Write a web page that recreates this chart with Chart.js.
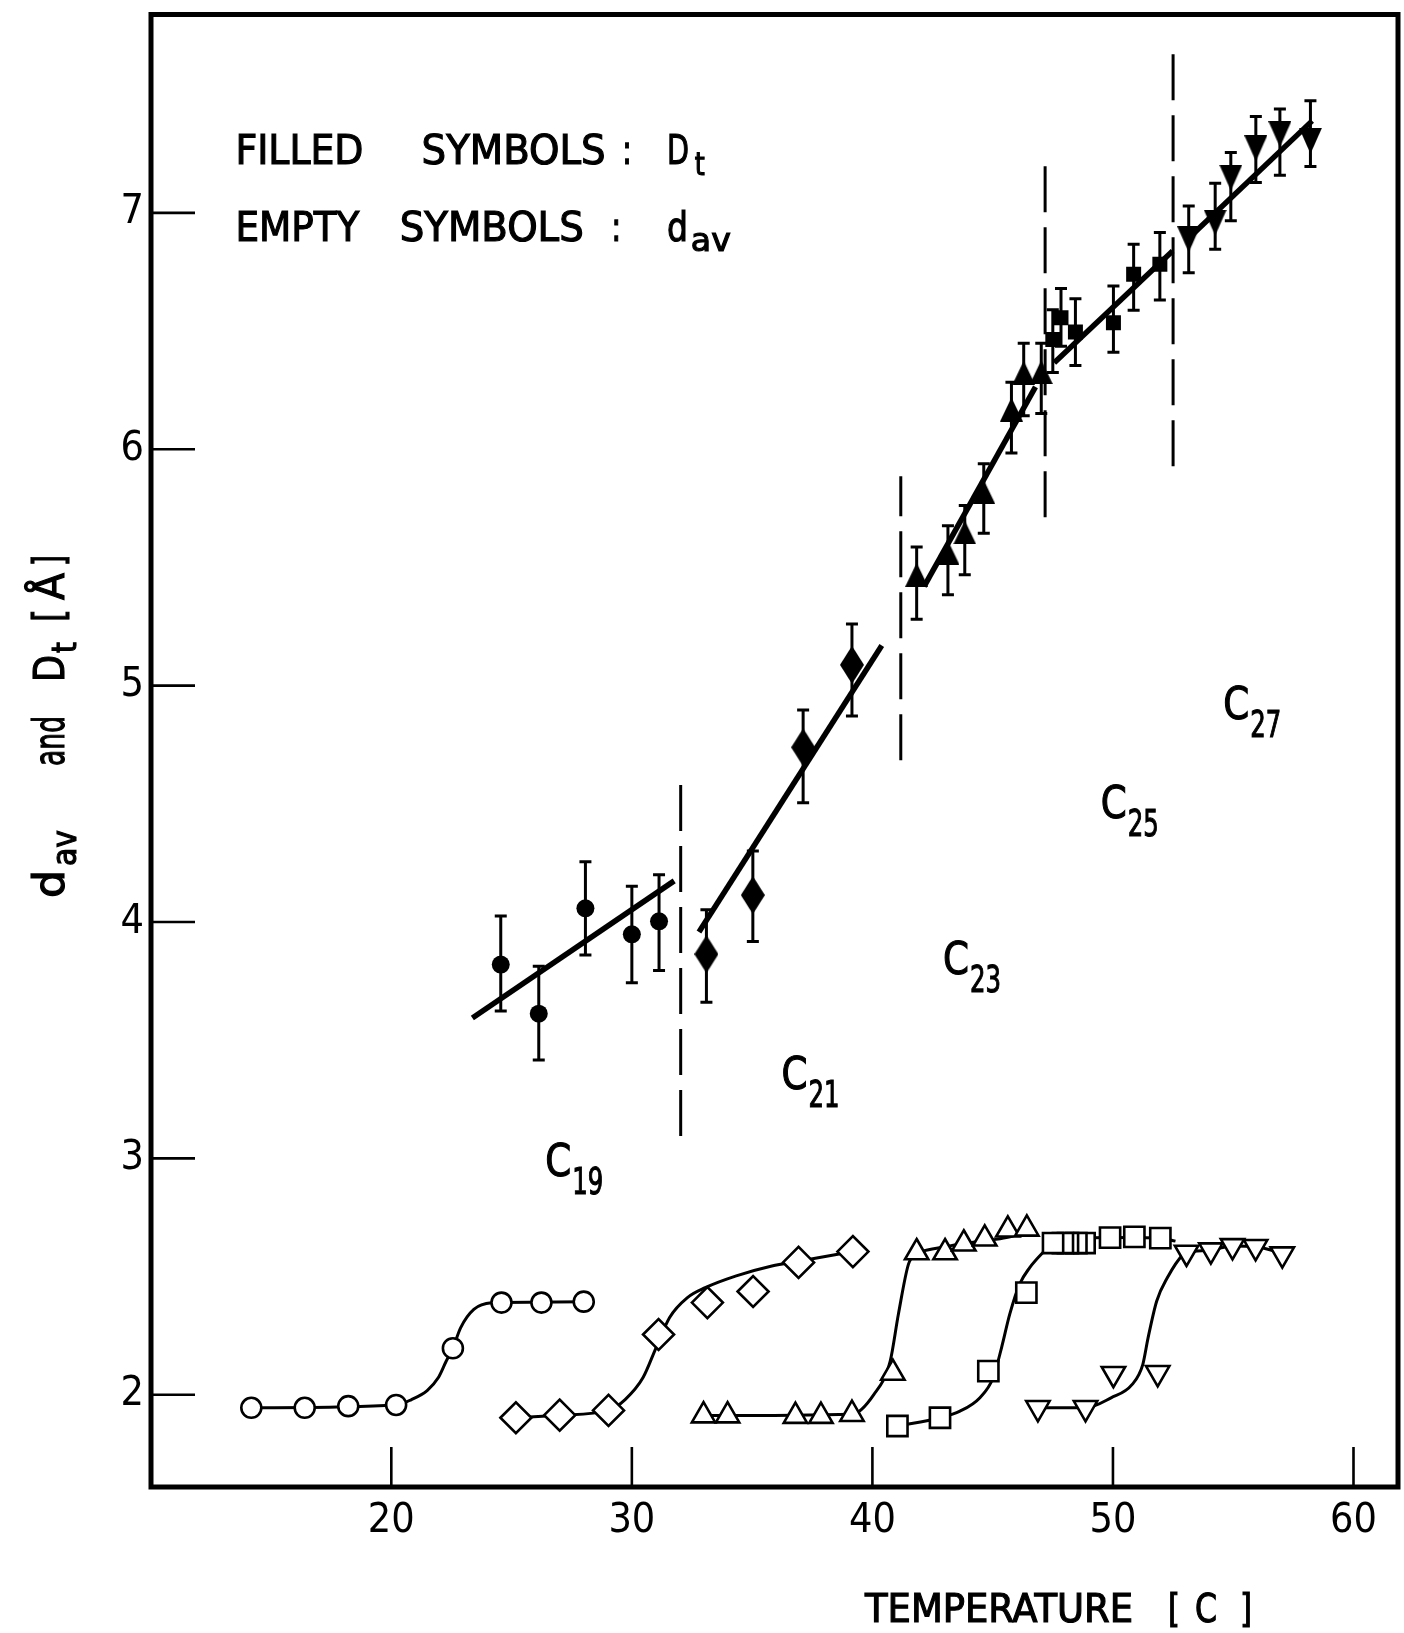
<!DOCTYPE html>
<html>
<head>
<meta charset="utf-8">
<script src="https://cdn.jsdelivr.net/npm/chart.js@4.4.1/dist/chart.umd.min.js"></script>
<style>
html,body{margin:0;padding:0;background:#fff;}
canvas{display:block;}
</style>
</head>
<body>
<canvas id="c" width="1404" height="1633"></canvas>
<script>
// ================= DATA =================
const xTickValues = [20, 30, 40, 50, 60];
const yTickValues = [2, 3, 4, 5, 6, 7];

// ---- Filled symbols: D_t (with error-bar ends) ----
const c19Temp = [24.55, 26.13, 28.07, 30.00, 31.13];
const c19Dt   = [3.820, 3.612, 4.058, 3.948, 4.003];
const c19Hi   = [4.025, 3.813, 4.255, 4.151, 4.200];
const c19Lo   = [3.624, 3.416, 3.861, 3.743, 3.795];

const c21Temp = [33.10, 35.03, 37.12, 39.15];
const c21Dt   = [3.864, 4.114, 4.739, 5.088];
const c21Hi   = [4.052, 4.300, 4.897, 5.261];
const c21Lo   = [3.661, 3.918, 4.504, 4.872];

const c23Temp = [41.84, 43.14, 43.84, 44.63, 45.78, 46.29, 47.02];
const c23Dt   = [5.469, 5.563, 5.648, 5.819, 6.168, 6.323, 6.326];
const c23Hi   = [5.586, 5.676, 5.762, 5.939, 6.283, 6.448, 6.448];
const c23Lo   = [5.281, 5.384, 5.469, 5.645, 5.984, 6.142, 6.151];

const c25Temp = [47.50, 47.84, 48.44, 50.02, 50.86, 51.95];
const c25Dt   = [6.464, 6.556, 6.496, 6.535, 6.740, 6.782];
const c25Hi   = [6.590, 6.680, 6.637, 6.690, 6.867, 6.917];
const c25Lo   = [6.325, 6.436, 6.354, 6.410, 6.588, 6.631];

const c27Temp = [53.15, 54.25, 54.90, 55.94, 56.94, 58.21];
const c27Dt   = [6.888, 6.959, 7.149, 7.273, 7.333, 7.305];
const c27Hi   = [7.029, 7.125, 7.255, 7.408, 7.439, 7.474];
const c27Lo   = [6.747, 6.846, 6.966, 7.128, 7.159, 7.196];

// ---- Straight fits through D_t ----
const c19FitT = [23.37, 31.76]; const c19FitD = [3.594, 4.174];
const c21FitT = [32.79, 40.39]; const c21FitD = [3.958, 5.170];
const c23FitT = [42.15, 46.78]; const c23FitD = [5.420, 6.264];
const c25FitT = [47.56, 52.48]; const c25FitD = [6.366, 6.839];
const c27FitT = [53.24, 58.28]; const c27FitD = [6.902, 7.389];

// ---- Dashed phase boundaries ----
const boundT  = [32.03, 41.18, 47.18, 52.50];
const boundLo = [3.095, 4.684, 5.712, 5.928];
const boundHi = [4.597, 5.886, 7.235, 7.715];

// ---- Empty symbols: d_av ----
const c19AvT = [14.18, 16.40, 18.21, 20.20, 22.56, 24.58, 26.24, 28.00];
const c19Av  = [1.945, 1.945, 1.952, 1.957, 2.197, 2.390, 2.390, 2.394];
const c21AvT = [25.18, 27.00, 29.03, 31.11, 33.14, 35.04, 36.93, 39.19];
const c21Av  = [1.903, 1.914, 1.934, 2.255, 2.390, 2.437, 2.560, 2.606];
const c23AvT = [32.98, 33.98, 36.80, 37.86, 39.15, 40.85, 41.84, 43.02, 43.80, 44.67, 45.63, 46.42];
const c23Av  = [1.912, 1.912, 1.910, 1.910, 1.918, 2.092, 2.602, 2.602, 2.639, 2.660, 2.698, 2.702];
// listed right-to-left so the overlapping squares stack as in the figure
const c25AvT = [51.97, 50.89, 49.88, 48.82, 48.48, 48.13, 47.92, 47.51, 46.40, 44.82, 42.81, 41.04];
const c25Av  = [2.663, 2.668, 2.665, 2.642, 2.642, 2.642, 2.642, 2.642, 2.432, 2.100, 1.903, 1.868];
const c27AvT = [46.88, 48.86, 50.02, 51.86, 53.06, 54.07, 54.97, 55.93, 57.04];
const c27Av  = [1.945, 1.945, 2.089, 2.093, 2.602, 2.612, 2.630, 2.626, 2.595];

// ---- Hand-drawn guide curves through d_av ----
const c19CurveT = [14.18, 20.20, 20.84, 21.49, 21.95, 22.28, 22.56, 22.88, 23.43, 24.17, 24.58, 28.00];
const c19CurveD = [1.945, 1.957, 1.980, 2.018, 2.072, 2.142, 2.197, 2.283, 2.361, 2.389, 2.390, 2.394];
const c21CurveT = [25.18, 27.00, 29.03, 29.72, 30.46, 31.01, 31.57, 32.31, 33.05, 34.34, 35.82, 36.93, 39.19];
const c21CurveD = [1.903, 1.914, 1.934, 1.980, 2.072, 2.200, 2.327, 2.411, 2.453, 2.503, 2.545, 2.565, 2.606];
const c23CurveT = [32.98, 39.15, 40.05, 40.74, 41.08, 41.50, 41.84, 42.12, 43.22, 44.60, 45.57, 46.42];
const c23CurveD = [1.912, 1.918, 2.000, 2.143, 2.341, 2.553, 2.600, 2.609, 2.630, 2.651, 2.665, 2.690];
const c25CurveT = [41.04, 42.81, 43.64, 44.47, 45.02, 45.37, 45.71, 46.12, 46.54, 47.09, 47.51, 49.88, 51.97, 52.60];
const c25CurveD = [1.868, 1.903, 1.931, 1.988, 2.072, 2.200, 2.341, 2.468, 2.538, 2.602, 2.642, 2.665, 2.663, 2.650];
const c27CurveT = [46.88, 48.86, 49.92, 50.80, 51.24, 51.46, 51.82, 52.26, 52.92, 53.06, 54.07, 54.97, 55.93, 57.04];
const c27CurveD = [1.945, 1.945, 1.987, 2.044, 2.128, 2.241, 2.397, 2.495, 2.594, 2.602, 2.612, 2.630, 2.626, 2.600];

// ---- Text ----
const chainSubs = ['19', '21', '23', '25', '27'];
const yTitleParts = ['d', 'av', 'and', 'D', 't', '[', 'Å', ']'];
const xTitleParts = ['TEMPERATURE', '[', 'C', ']'];

// ================= DRAWING =================
const FONT = "'DejaVu Sans Condensed', 'DejaVu Sans', sans-serif";

function pts(xs, ys) { return xs.map((x, i) => ({ x: x, y: ys[i] })); }

function makeMarker(w, h, path) {
  const c = document.createElement('canvas');
  c.width = w; c.height = h;
  const g = c.getContext('2d');
  g.fillStyle = '#000';
  g.beginPath(); path(g, w, h); g.closePath(); g.fill();
  return c;
}
const tallDiamond = makeMarker(24, 38, (g, w, h) => { g.moveTo(w/2, 0); g.lineTo(w, h/2); g.lineTo(w/2, h); g.lineTo(0, h/2); });
const upTri = makeMarker(23, 24, (g, w, h) => { g.moveTo(w/2, 0); g.lineTo(w, h); g.lineTo(0, h); });
const downTri = makeMarker(23, 26, (g, w, h) => { g.moveTo(0, 0); g.lineTo(w, 0); g.lineTo(w/2, h); });

function filledSet(t, d, hi, lo, style, r) {
  return { data: pts(t, d), errHi: hi, errLo: lo, showLine: false, order: 0,
    pointStyle: style, pointRadius: r, pointBackgroundColor: '#000', pointBorderColor: '#000', pointBorderWidth: 0 };
}
function emptySet(t, d, style, r, rot) {
  return { data: pts(t, d), showLine: false, order: 0,
    pointStyle: style, pointRadius: r, pointRotation: rot || 0,
    pointBackgroundColor: '#fff', pointBorderColor: '#000', pointBorderWidth: 2.6 };
}
function lineSet(t, d, width, dash, smooth) {
  return { data: pts(t, d), showLine: true, order: 1, pointRadius: 0,
    borderColor: '#000', borderWidth: width, borderDash: dash || [],
    cubicInterpolationMode: smooth ? 'monotone' : 'default', tension: 0, fill: false };
}

const datasets = [
  filledSet(c19Temp, c19Dt, c19Hi, c19Lo, 'circle', 9),
  filledSet(c21Temp, c21Dt, c21Hi, c21Lo, tallDiamond, 12),
  filledSet(c23Temp, c23Dt, c23Hi, c23Lo, upTri, 12),
  filledSet(c25Temp, c25Dt, c25Hi, c25Lo, 'rect', 10.6),
  filledSet(c27Temp, c27Dt, c27Hi, c27Lo, downTri, 12),
  emptySet(c19AvT, c19Av, 'circle', 10),
  emptySet(c21AvT, c21Av, 'rectRot', 15.5),
  emptySet(c23AvT, c23Av, 'triangle', 13.5),
  emptySet(c25AvT, c25Av, 'rect', 14.3),
  emptySet(c27AvT, c27Av, 'triangle', 13.5, 180),
  lineSet(c19FitT, c19FitD, 5.5),
  lineSet(c21FitT, c21FitD, 5.5),
  lineSet(c23FitT, c23FitD, 5.5),
  lineSet(c25FitT, c25FitD, 5.5),
  lineSet(c27FitT, c27FitD, 5.5),
  lineSet(c19CurveT, c19CurveD, 3, null, true),
  lineSet(c21CurveT, c21CurveD, 3, null, true),
  lineSet(c23CurveT, c23CurveD, 3, null, true),
  lineSet(c25CurveT, c25CurveD, 3, null, true),
  lineSet(c27CurveT, c27CurveD, 3, null, true)
];
boundT.forEach((t, i) => datasets.push(lineSet([t, t], [boundLo[i], boundHi[i]], 3, [46, 15])));

// error bars, drawn through the scales
const errorBars = {
  id: 'errorBars',
  beforeDatasetsDraw(chart) {
    const ctx = chart.ctx, xs = chart.scales.x, ys = chart.scales.y;
    ctx.save();
    ctx.strokeStyle = '#000'; ctx.lineWidth = 3;
    chart.data.datasets.forEach(ds => {
      if (!ds.errHi) return;
      ds.data.forEach((p, i) => {
        const px = xs.getPixelForValue(p.x);
        const pHi = ys.getPixelForValue(ds.errHi[i]);
        const pLo = ys.getPixelForValue(ds.errLo[i]);
        ctx.beginPath();
        ctx.moveTo(px, pHi); ctx.lineTo(px, pLo);
        ctx.moveTo(px - 6, pHi); ctx.lineTo(px + 6, pHi);
        ctx.moveTo(px - 6, pLo); ctx.lineTo(px + 6, pLo);
        ctx.stroke();
      });
    });
    ctx.restore();
  }
};

// frame box with inward tick marks
const frame = {
  id: 'frame',
  afterDatasetsDraw(chart) {
    const ctx = chart.ctx, a = chart.chartArea, xs = chart.scales.x, ys = chart.scales.y;
    ctx.save();
    ctx.strokeStyle = '#000';
    ctx.lineWidth = 2.6;
    ctx.beginPath();
    xs.ticks.forEach(t => { const px = xs.getPixelForValue(t.value); ctx.moveTo(px, a.bottom); ctx.lineTo(px, a.bottom - 40); });
    ys.ticks.forEach(t => { const py = ys.getPixelForValue(t.value); ctx.moveTo(a.left, py); ctx.lineTo(a.left + 44, py); });
    ctx.stroke();
    ctx.lineWidth = 5;
    ctx.strokeRect(a.left, a.top, a.right - a.left, a.bottom - a.top);
    ctx.restore();
  }
};

function fitText(ctx, text, x, y, w, font) {
  ctx.font = font;
  const m = ctx.measureText(text).width;
  ctx.save(); ctx.translate(x, y); ctx.scale(w / m, 1);
  ctx.fillText(text, 0, 0);
  ctx.lineWidth = 1.1; ctx.strokeStyle = '#000'; ctx.strokeText(text, 0, 0);
  ctx.restore();
}

const texts = {
  id: 'texts',
  afterDraw(chart) {
    const ctx = chart.ctx, xs = chart.scales.x, ys = chart.scales.y;
    const X = v => xs.getPixelForValue(v), Y = v => ys.getPixelForValue(v);
    ctx.save();
    ctx.fillStyle = '#000';
    ctx.textBaseline = 'alphabetic';
    ctx.textAlign = 'left';
    const big = "41px " + FONT, sub = "32px " + FONT;
    // legend text
    let b1 = Y(7.206), b2 = Y(6.880);
    fitText(ctx, 'FILLED', X(13.52), b1, 128, big);
    fitText(ctx, 'SYMBOLS', X(21.26), b1, 184, big);
    fitText(ctx, ':', X(29.59), b1, 10, big);
    fitText(ctx, 'D', X(31.46), b1, 22, big);
    fitText(ctx, 't', X(32.61), b1 + 11, 10, sub);
    fitText(ctx, 'EMPTY', X(13.52), b2, 124, big);
    fitText(ctx, 'SYMBOLS', X(20.35), b2, 184, big);
    fitText(ctx, ':', X(29.14), b2, 10, big);
    fitText(ctx, 'd', X(31.46), b2, 21, big);
    fitText(ctx, 'av', X(32.45), b2 + 10, 40, sub);
    // chain-length labels C19..C27
    const cx = [26.40, 36.22, 42.94, 49.49, 54.59];
    const cy = [2.925, 3.295, 3.778, 4.439, 4.858];
    chainSubs.forEach((s, i) => {
      const x = X(cx[i]), y = Y(cy[i]);
      fitText(ctx, 'C', x, y, 26, "45px " + FONT);
      fitText(ctx, s, x + 27, y + 18, 31, "38px " + FONT);
    });
    // y-axis title (rotated)
    ctx.save();
    ctx.translate(64, 898);
    ctx.rotate(-Math.PI / 2);
    const tf = "43px " + FONT, tsf = "33px " + FONT;
    fitText(ctx, yTitleParts[0], 0, 0, 28, tf);
    fitText(ctx, yTitleParts[1], 32, 12, 36, tsf);
    fitText(ctx, yTitleParts[2], 132, 0, 50, tf);
    fitText(ctx, yTitleParts[3], 216, 0, 27, tf);
    fitText(ctx, yTitleParts[4], 245, 12, 11, tsf);
    fitText(ctx, yTitleParts[5], 276, 0, 13, tf);
    fitText(ctx, yTitleParts[6], 298, 0, 27, tf);
    fitText(ctx, yTitleParts[7], 332, 0, 11, tf);
    ctx.restore();
    // x-axis title
    const xf = "39px " + FONT;
    fitText(ctx, xTitleParts[0], 865, 1622, 268, xf);
    fitText(ctx, xTitleParts[1], 1168, 1622, 12, xf);
    fitText(ctx, xTitleParts[2], 1195, 1622, 22, xf);
    fitText(ctx, xTitleParts[3], 1240, 1622, 12, xf);
    ctx.restore();
  }
};

new Chart(document.getElementById('c'), {
  type: 'scatter',
  data: { datasets: datasets },
  options: {
    responsive: false,
    animation: false,
    events: [],
    layout: { autoPadding: false, padding: { top: 14.5, right: 6, left: 0, bottom: 0 } },
    plugins: { legend: { display: false }, tooltip: { enabled: false }, title: { display: false } },
    scales: {
      x: {
        type: 'linear', min: 10.01, max: 61.85,
        afterBuildTicks: s => { s.ticks = xTickValues.map(v => ({ value: v })); },
        afterFit: s => { s.height = 146; s.paddingLeft = 0; s.paddingRight = 0; },
        grid: { display: false, drawTicks: false }, border: { display: false },
        ticks: { color: '#000', font: { family: FONT, size: 41 }, padding: 10, maxRotation: 0 }
      },
      y: {
        type: 'linear', min: 1.61, max: 7.839,
        afterBuildTicks: s => { s.ticks = yTickValues.map(v => ({ value: v })); },
        afterFit: s => { s.width = 151; s.paddingTop = 0; s.paddingBottom = 0; },
        grid: { display: false, drawTicks: false }, border: { display: false },
        ticks: { color: '#000', font: { family: FONT, size: 41 }, padding: 7 }
      }
    }
  },
  plugins: [errorBars, frame, texts]
});
</script>
</body>
</html>
